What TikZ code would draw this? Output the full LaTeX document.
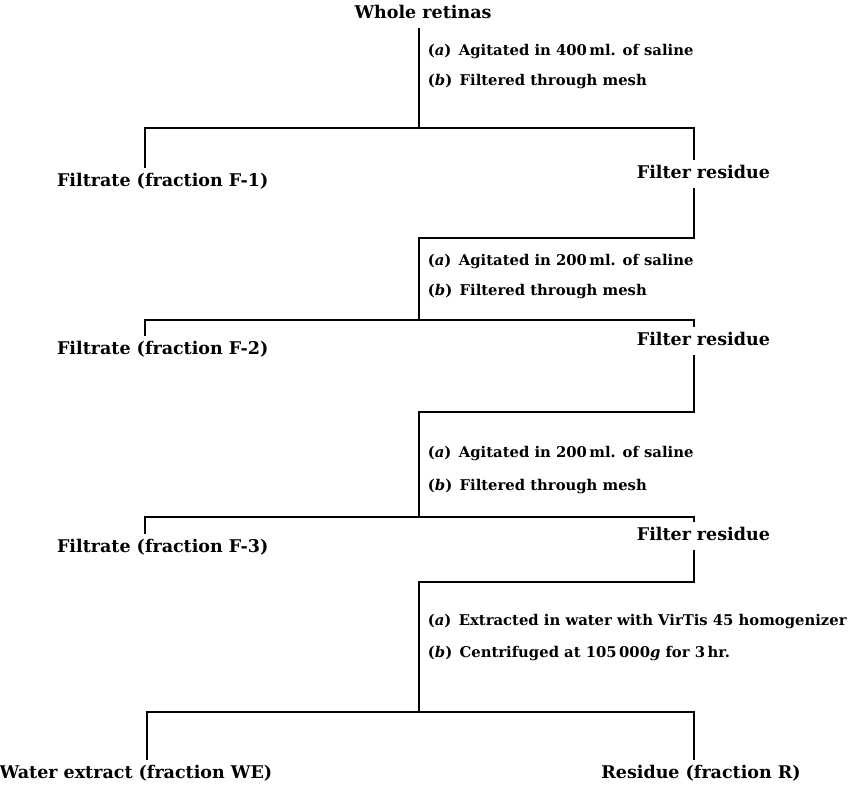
\documentclass[tikz,border=0pt]{standalone}
\usepackage{fontspec}
\setmainfont{DejaVu Serif}
\newcommand{\splitat}[2]{\makebox[0pt][r]{#1}\makebox[0pt][l]{#2}}
\begin{document}
\begin{tikzpicture}[x=1pt,y=-1pt,line width=1.8pt,
  lab/.style={font=\fontsize{17.5}{20}\selectfont\bfseries,inner xsep=0pt,inner ysep=5pt,text height=12.5pt,text depth=4pt},
  sub/.style={font=\fontsize{14.8}{17}\selectfont\bfseries,anchor=west,inner sep=0pt}]
\useasboundingbox (0,0) rectangle (852,788);
% stage 1
\node[lab] (whole) at (423,14) {Whole retinas};
\coordinate (s1) at (419,128);
\node[sub] (a1) at (427,52) {(\textit{a})\enspace Agitated in 400\,ml. of saline};
\node[sub] (b1) at (427,82) {(\textit{b})\enspace Filtered through mesh};
\node[lab] (f1) at (145,182) {\splitat{Filtrate (}{fraction F-1)}};
\node[lab] (r1) at (694,174) {\splitat{Filter\kern0.17em}{\kern0.17em residue}};
\draw (whole.south -| s1) -- (s1);
\draw (f1.north) |- (s1) -| (r1.north);
% stage 2
\coordinate (j1) at (419,238);
\coordinate (s2) at (419,320);
\node[sub] (a2) at (427,262) {(\textit{a})\enspace Agitated in 200\,ml. of saline};
\node[sub] (b2) at (427,292) {(\textit{b})\enspace Filtered through mesh};
\node[lab] (f2) at (145,350) {\splitat{Filtrate (}{fraction F-2)}};
\node[lab] (r2) at (694,341) {\splitat{Filter\kern0.17em}{\kern0.17em residue}};
\draw (r1.south) |- (j1) -- (s2);
\draw (f2.north) |- (s2) -| (r2.north);
% stage 3
\coordinate (j2) at (419,412);
\coordinate (s3) at (419,517);
\node[sub] (a3) at (427,454) {(\textit{a})\enspace Agitated in 200\,ml. of saline};
\node[sub] (b3) at (427,487) {(\textit{b})\enspace Filtered through mesh};
\node[lab] (f3) at (145,548) {\splitat{Filtrate (}{fraction F-3)}};
\node[lab] (r3) at (694,536) {\splitat{Filter\kern0.17em}{\kern0.17em residue}};
\draw (r2.south) |- (j2) -- (s3);
\draw (f3.north) |- (s3) -| (r3.north);
% stage 4
\coordinate (j3) at (419,582);
\coordinate (s4) at (419,712);
\node[sub] (a4) at (427,622) {(\textit{a})\enspace Extracted in water with VirTis 45 homogenizer};
\node[sub] (b4) at (427,654) {(\textit{b})\enspace Centrifuged at 105\,000\textit{g} for 3\,hr.};
\node[lab] (we) at (147,774) {\splitat{Water extract (}{fraction WE)}};
\node[lab] (res) at (694,774) {\splitat{Residue (}{fraction R)}};
\draw (r3.south) |- (j3) -- (s4);
\draw (we.north) |- (s4) -| (res.north);
\end{tikzpicture}
\end{document}
